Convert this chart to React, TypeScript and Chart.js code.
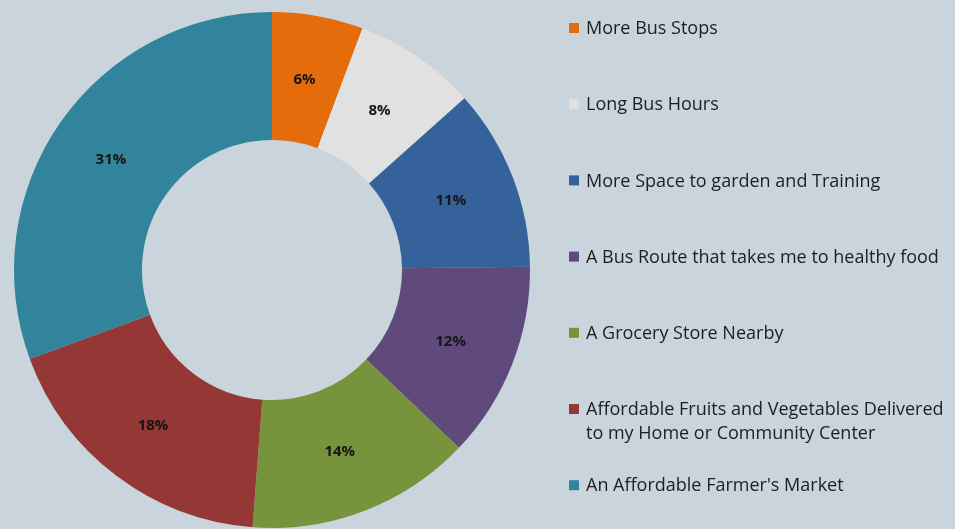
import React, { useEffect, useRef } from "react";
import { Chart, registerables } from "chart.js";

Chart.register(...registerables);

const categories: (string | string[])[] = [
  "More Bus Stops",
  "Long Bus Hours",
  "More Space to garden and Training",
  "A Bus Route that takes me to healthy food",
  "A Grocery Store Nearby",
  ["Affordable Fruits and Vegetables Delivered", "to my Home or Community Center"],
  "An Affordable Farmer's Market",
];
const values = [5.7, 7.7, 11.4, 12.3, 14.1, 18.2, 30.6];
const colors = ["#E46C0A", "#E1E1E1", "#35629A", "#5F4A7B", "#77933C", "#953735", "#31849B"];
const BG = "#C9D4DC";

const labelsPlugin = {
  id: "customLabels",
  beforeDraw(chart: any) {
    const ctx = chart.ctx;
    ctx.save();
    ctx.fillStyle = BG;
    ctx.fillRect(0, 0, chart.width, chart.height);
    ctx.restore();
  },
  afterDraw(chart: any) {
    const ctx = chart.ctx;
    const meta = chart.getDatasetMeta(0);
    const total = values.reduce((a, b) => a + b, 0);
    ctx.save();
    ctx.font = "bold 15px 'Open Sans'";
    ctx.fillStyle = "#161616";
    ctx.textAlign = "center";
    ctx.textBaseline = "middle";
    meta.data.forEach((arc: any, i: number) => {
      const p = arc.tooltipPosition();
      ctx.fillText(Math.round((values[i] / total) * 100) + "%", p.x - 2, p.y + 1);
    });
    // legend
    const x0 = 569;
    const y0 = 28;
    const step = 76.2;
    const lineH = 24;
    ctx.font = "18px 'Open Sans'";
    ctx.textAlign = "left";
    categories.forEach((c, i) => {
      const lines = Array.isArray(c) ? c : [c];
      const y = y0 + i * step;
      ctx.fillStyle = colors[i];
      ctx.fillRect(x0, y - 5, 10, 10);
      ctx.fillStyle = "#1e1e1e";
      lines.forEach((l, j) => ctx.fillText(l, x0 + 17, y + 1 + j * lineH));
    });
    ctx.restore();
  },
};

export default function App() {
  const ref = useRef<HTMLCanvasElement>(null);
  useEffect(() => {
    document.body.style.margin = "0";
    const chart = new Chart(ref.current!, {
      type: "doughnut",
      data: {
        labels: categories as any,
        datasets: [{ data: values, backgroundColor: colors, borderWidth: 0 }],
      },
      options: {
        animation: false,
        responsive: false,
        cutout: "50.4%",
        layout: { padding: { top: 12, bottom: 1, left: 14, right: 425 } },
        plugins: { legend: { display: false }, tooltip: { enabled: false } },
      },
      plugins: [labelsPlugin],
    });
    return () => chart.destroy();
  }, []);
  return (
    <div style={{ width: 955, height: 529 }}>
      <canvas ref={ref} width={955} height={529} style={{ display: "block" }} />
    </div>
  );
}
